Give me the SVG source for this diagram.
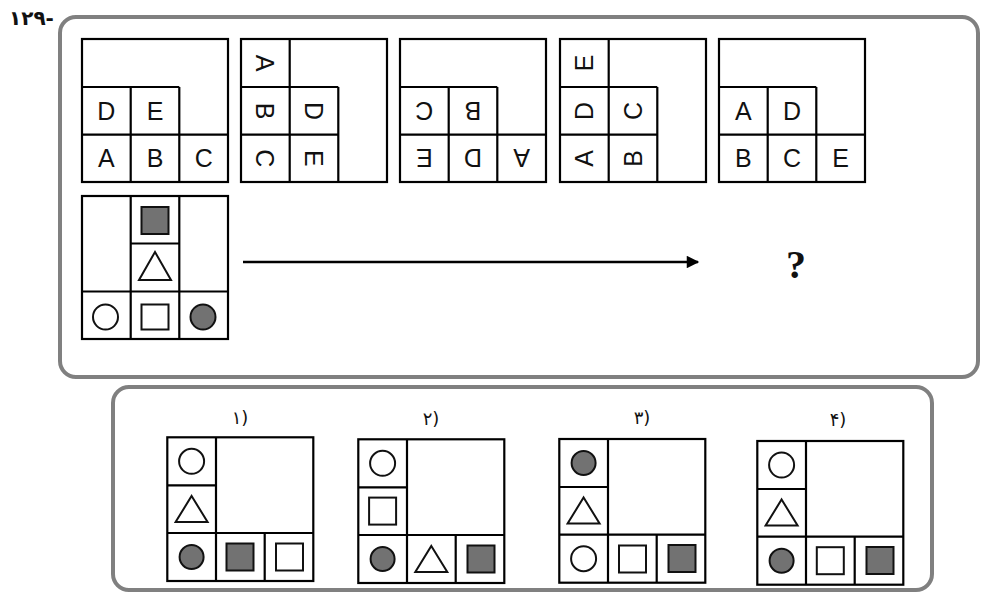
<svg xmlns="http://www.w3.org/2000/svg" width="982" height="592" viewBox="0 0 982 592">
<style>
.frame{fill:none;stroke:#808080;stroke-width:4}
.g{fill:none;stroke:#000;stroke-width:2.2}
.lt{font-family:"Liberation Sans",Arial,sans-serif;font-size:25px;text-anchor:middle;fill:#111}
.sh{fill:#fff;stroke:#111;stroke-width:2}
.gr{fill:#727272;stroke:#111;stroke-width:2}
.lbl{font-family:"DejaVu Sans","Noto Sans",sans-serif;font-size:18px;text-anchor:middle;fill:#111}
</style>
<defs>
<marker id="ah" viewBox="0 0 10 10" refX="9" refY="5" markerWidth="6" markerHeight="5" markerUnits="strokeWidth" orient="auto">
<path d="M0,0 L10,5 L0,10 z" fill="#000"/>
</marker>
</defs>
<rect width="982" height="592" fill="#fff"/>
<text x="9" y="25" style="font-family:'DejaVu Sans',sans-serif;font-size:20px;font-weight:bold;fill:#111;letter-spacing:0.5px">۱۲۹-</text>
<rect class="frame" x="60" y="17" width="918" height="360" rx="16"/>
<rect class="frame" x="113" y="387" width="819" height="203" rx="16"/>

<g id="grid1">
<rect class="g" x="82" y="39" width="146" height="143"/>
<path class="g" d="M82,87H179.3M82,134.7H228M130.7,87V182M179.3,87V182"/>
<text class="lt" x="106.3" y="120">D</text>
<text class="lt" x="155" y="120">E</text>
<text class="lt" x="106.3" y="167.4">A</text>
<text class="lt" x="155" y="167.4">B</text>
<text class="lt" x="203.7" y="167.4">C</text>
</g>

<g id="grid2">
<rect class="g" x="241" y="39" width="146" height="143"/>
<path class="g" d="M289.7,39V182M241,87H338.3M241,134.7H338.3M338.3,87V182"/>
<text class="lt" x="265.3" y="72" transform="rotate(90 265.3 63)">A</text>
<text class="lt" x="265.3" y="120" transform="rotate(90 265.3 111)">B</text>
<text class="lt" x="265.3" y="167.4" transform="rotate(90 265.3 158.4)">C</text>
<text class="lt" x="314" y="120" transform="rotate(90 314 111)">D</text>
<text class="lt" x="314" y="167.4" transform="rotate(90 314 158.4)">E</text>
</g>

<g id="grid3">
<rect class="g" x="400" y="39" width="146" height="143"/>
<path class="g" d="M400,87H497.3M400,134.7H546M448.7,87V182M497.3,87V182"/>
<text class="lt" x="424.3" y="120" transform="rotate(180 424.3 111)">C</text>
<text class="lt" x="473" y="120" transform="rotate(180 473 111)">B</text>
<text class="lt" x="424.3" y="167.4" transform="rotate(180 424.3 158.4)">E</text>
<text class="lt" x="473" y="167.4" transform="rotate(180 473 158.4)">D</text>
<text class="lt" x="521.7" y="167.4" transform="rotate(180 521.7 158.4)">A</text>
</g>

<g id="grid4">
<rect class="g" x="560" y="39" width="146" height="143"/>
<path class="g" d="M608.7,39V182M560,87H657.3M560,134.7H657.3M657.3,87V182"/>
<text class="lt" x="584.3" y="72" transform="rotate(-90 584.3 63)">E</text>
<text class="lt" x="584.3" y="120" transform="rotate(-90 584.3 111)">D</text>
<text class="lt" x="584.3" y="167.4" transform="rotate(-90 584.3 158.4)">A</text>
<text class="lt" x="633" y="120" transform="rotate(-90 633 111)">C</text>
<text class="lt" x="633" y="167.4" transform="rotate(-90 633 158.4)">B</text>
</g>

<g id="grid5">
<rect class="g" x="719" y="39" width="146" height="143"/>
<path class="g" d="M719,87H816.3M719,134.7H865M767.7,87V182M816.3,87V182"/>
<text class="lt" x="743.3" y="120">A</text>
<text class="lt" x="792" y="120">D</text>
<text class="lt" x="743.3" y="167.4">B</text>
<text class="lt" x="792" y="167.4">C</text>
<text class="lt" x="840.7" y="167.4">E</text>
</g>

<g id="grid6">
<rect class="g" x="82" y="196" width="146" height="143"/>
<path class="g" d="M130.7,196V339M179.3,196V339M130.7,243.5H179.3M82,291.5H228"/>
<rect class="gr" x="141.5" y="207" width="27" height="27"/>
<path class="sh" d="M155,252L171,280H139Z"/>
<circle class="sh" cx="105.5" cy="317" r="12.5"/>
<rect class="sh" x="141.5" y="304.5" width="27" height="25"/>
<circle class="gr" cx="203" cy="317" r="12.5"/>
</g>

<g id="connectors">
<line x1="243" y1="262" x2="698" y2="262" stroke="#000" stroke-width="2.5" marker-end="url(#ah)"/>
</g>

<g id="question">
<text x="796" y="278" style="font-family:'Liberation Serif','Times New Roman',serif;font-size:40px;font-weight:bold;text-anchor:middle;fill:#111">?</text>
</g>

<g id="option1">
<text class="lbl" x="240" y="424">۱)</text>
<rect class="g" x="167.3" y="437.3" width="146" height="143.7"/>
<path class="g" d="M216,437.3V581M167.3,485.3H216M167.3,533H313.3M264.7,533V581"/>
<circle class="sh" cx="191.6" cy="461.3" r="12.5"/>
<path class="sh" d="M191.6,496L207.6,522H175.6Z"/>
<circle class="gr" cx="191.6" cy="557" r="12"/>
<rect class="gr" x="226.5" y="543.5" width="27" height="27"/>
<rect class="sh" x="276" y="543.5" width="27" height="27"/>
</g>

<g id="option2">
<text class="lbl" x="431" y="425">۲)</text>
<rect class="g" x="358.3" y="439.3" width="146" height="143.7"/>
<path class="g" d="M407,439.3V583M358.3,487.3H407M358.3,535H504.3M455.7,535V583"/>
<circle class="sh" cx="382.6" cy="463.3" r="12.5"/>
<rect class="sh" x="369.1" y="497.6" width="27" height="27"/>
<circle class="gr" cx="382.6" cy="559" r="12"/>
<path class="sh" d="M431.3,546L447.3,572H415.3Z"/>
<rect class="gr" x="467.5" y="545.5" width="27" height="27"/>
</g>

<g id="option3">
<text class="lbl" x="642" y="424">۳)</text>
<rect class="g" x="559.3" y="439" width="146" height="143.7"/>
<path class="g" d="M608,439V582.7M559.3,487H608M559.3,534.7H705.3M656.7,534.7V582.7"/>
<circle class="gr" cx="583.6" cy="463" r="12"/>
<path class="sh" d="M583.6,497.5L599.6,523.5H567.6Z"/>
<circle class="sh" cx="583.6" cy="558.7" r="12.5"/>
<rect class="sh" x="619" y="545.5" width="27" height="27"/>
<rect class="gr" x="668.5" y="545" width="27" height="27"/>
</g>

<g id="option4">
<text class="lbl" x="838" y="426">۴)</text>
<rect class="g" x="757.3" y="441" width="146" height="143.7"/>
<path class="g" d="M806,441V584.7M757.3,489H806M757.3,536.7H903.3M854.7,536.7V584.7"/>
<circle class="sh" cx="781.6" cy="465" r="12.5"/>
<path class="sh" d="M781.6,499.5L797.6,525.5H765.6Z"/>
<circle class="gr" cx="781.6" cy="560.7" r="12"/>
<rect class="sh" x="816.8" y="547.2" width="27" height="27"/>
<rect class="gr" x="866.5" y="547" width="27" height="27"/>
</g>
</svg>
